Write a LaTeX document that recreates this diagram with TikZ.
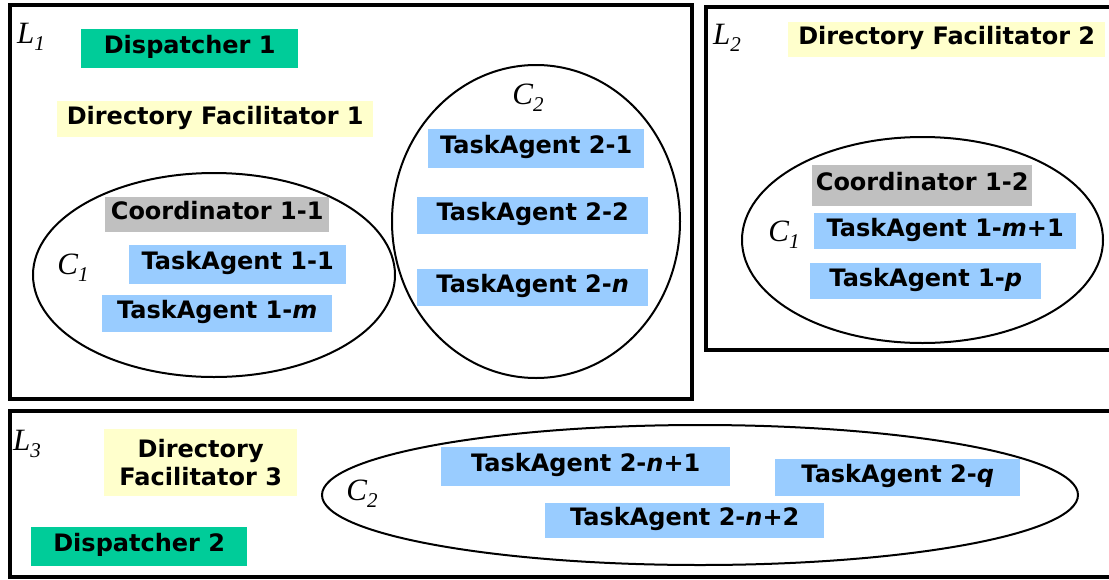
\documentclass[tikz,border=0pt]{standalone}
\usepackage{fontspec}
\setmainfont{DejaVu Sans}
\newfontfamily\lblfont{Liberation Serif}
\definecolor{dispgreen}{HTML}{00CC99}
\definecolor{dfyellow}{HTML}{FFFFCC}
\definecolor{coordgray}{HTML}{C0C0C0}
\definecolor{agentblue}{HTML}{99CCFF}
% level / cluster tag with a lowered index
\newcommand{\tagname}[2]{{\lblfont\itshape #1\raisebox{-.22em}{\fontsize{21}{21}\selectfont #2}}}

\begin{document}
\begin{tikzpicture}[x=1pt,y=-1pt,font=\fontsize{24}{28}\selectfont\bfseries,
	box/.style={rectangle,inner sep=0pt,above right,text height=1.3em,text depth=.2em},
	dispatcher/.style={box,fill=dispgreen},
	facilitator/.style={box,fill=dfyellow},
	coordinator/.style={box,fill=coordgray},
	agent/.style={box,fill=agentblue},
	level/.style={line width=4pt},
	cluster/.style={line width=2pt},
	tag/.style={font=\fontsize{31}{31}\selectfont}]
	\useasboundingbox (0,0) rectangle (1109,579);

	% levels
	\draw[level] (10,5) rectangle (692,399);
	\draw[level] (706,6.5) rectangle (1116,350);
	\draw[level] (10,411) rectangle (1116,577);

	% clusters
	\draw[cluster] (214,275) ellipse [x radius=181, y radius=102];
	\draw[cluster] (536,221.5) ellipse [x radius=144, y radius=156.5];
	\draw[cluster] (922.5,240) ellipse [x radius=180.5, y radius=103];
	\draw[cluster] (700,495) ellipse [x radius=378, y radius=70];

	% level 1
	\node[tag] (l1) at (31,37) {\tagname{L}{1}};
	\node[dispatcher,minimum width=217,minimum height=39] (disp1) at (81,68) {Dispatcher 1};
	\node[facilitator,minimum width=316,minimum height=36] (df1) at (57,137) {Directory Facilitator 1};
	\node[tag] (c11) at (73,268) {\tagname{C}{1}};
	\node[coordinator,minimum width=224,minimum height=35] (coord11) at (105,232) {Coordinator 1-1};
	\node[agent,minimum width=217,minimum height=39] (ta11) at (129,284) {TaskAgent 1-1};
	\node[agent,minimum width=230,minimum height=37] (ta1m) at (102,332) {TaskAgent 1-\textit{m}};
	\node[tag] (c21) at (528,98) {\tagname{C}{2}};
	\node[agent,minimum width=216,minimum height=39] (ta21) at (428,168) {TaskAgent 2-1};
	\node[agent,minimum width=231,minimum height=37] (ta22) at (417,234) {TaskAgent 2-2};
	\node[agent,minimum width=231,minimum height=37] (ta2n) at (417,306) {TaskAgent 2-\textit{n}};

	% level 2
	\node[tag] (l2) at (727,38) {\tagname{L}{2}};
	\node[facilitator,minimum width=317,minimum height=35] (df2) at (788,57) {Directory Facilitator 2};
	\node[tag] (c12) at (784,235) {\tagname{C}{1}};
	\node[coordinator,minimum width=220,minimum height=41] (coord12) at (812,206) {Coordinator 1-2};
	\node[agent,minimum width=262,minimum height=36] (ta1m1) at (814,249) {TaskAgent 1-\textit{m}+1};
	\node[agent,minimum width=231,minimum height=36] (ta1p) at (810,299) {TaskAgent 1-\textit{p}};

	% level 3
	\node[tag] (l3) at (27,444) {\tagname{L}{3}};
	\node[facilitator,text height=,text depth=,align=center,minimum width=193,minimum height=67] (df3) at (104,496) {Directory\\Facilitator 3};
	\node[dispatcher,minimum width=216,minimum height=39] (disp2) at (31,566) {Dispatcher 2};
	\node[tag] (c23) at (362,494) {\tagname{C}{2}};
	\node[agent,minimum width=289,minimum height=39] (ta2n1) at (441,486) {TaskAgent 2-\textit{n}+1};
	\node[agent,minimum width=245,minimum height=37] (ta2q) at (775,496) {TaskAgent 2-\textit{q}};
	\node[agent,minimum width=279,minimum height=35] (ta2n2) at (545,538) {TaskAgent 2-\textit{n}+2};
\end{tikzpicture}
\end{document}
